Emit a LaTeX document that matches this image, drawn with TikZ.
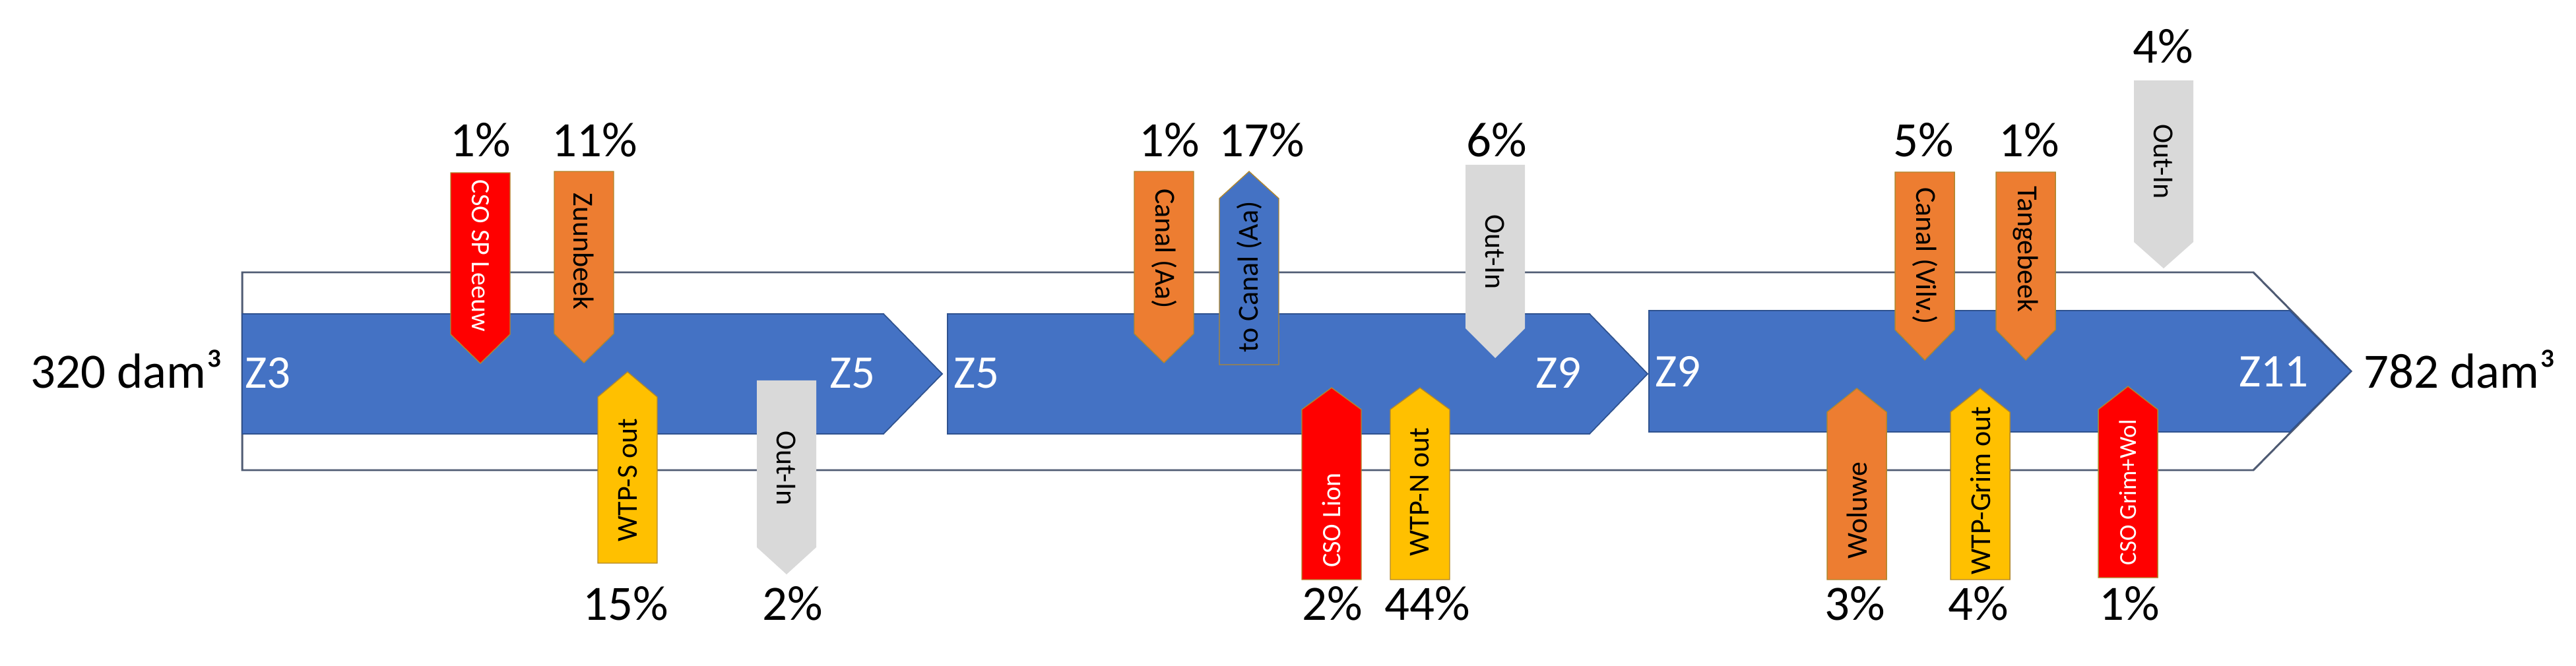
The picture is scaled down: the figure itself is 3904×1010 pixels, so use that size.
\documentclass[tikz,border=0pt]{standalone}
\usepackage{fontspec}
\setmainfont{Carlito}
\definecolor{mainblue}{HTML}{4472C4}
\definecolor{blueline}{HTML}{2F528F}
\definecolor{outerline}{HTML}{4F5B73}
\definecolor{redfill}{HTML}{FF0000}
\definecolor{orangefill}{HTML}{ED7D31}
\definecolor{goldfill}{HTML}{FFC000}
\definecolor{grayfill}{HTML}{D9D9D9}
\definecolor{smallline}{HTML}{B0872E}
\newcommand\dnarr[5]{% cx, top, shoulder, tip, style
  \path[#5] ({#1-45},#2) -- ({#1+45},#2) -- ({#1+45},#3) -- (#1,#4) -- ({#1-45},#3) -- cycle;}
\newcommand\uparr[5]{% cx, tip, shoulder, bottom, style
  \path[#5] (#1,#2) -- ({#1+45},#3) -- ({#1+45},#4) -- ({#1-45},#4) -- ({#1-45},#3) -- cycle;}
\begin{document}
\begin{tikzpicture}[x=0.01cm,y=-0.01cm,
  outerarrow/.style={draw=outerline,line width=0.85pt,fill=white,line join=miter},
  bluearrow/.style={draw=blueline,line width=0.5pt,fill=mainblue},
  redarr/.style={draw=smallline,line width=0.4pt,fill=redfill},
  orangearr/.style={draw=smallline,line width=0.4pt,fill=orangefill},
  goldarr/.style={draw=smallline,line width=0.4pt,fill=goldfill},
  grayarr/.style={fill=grayfill},
  bluesmall/.style={draw=smallline,line width=0.4pt,fill=mainblue},
  bigtext/.style={inner sep=0pt,font=\fontsize{21.3pt}{25pt}\selectfont,text=black},
  pct/.style={bigtext,anchor=base},
  zlabel/.style={inner sep=0pt,font=\fontsize{20.2pt}{24pt}\selectfont,text=white},
  intext/.style={inner sep=0pt,font=\fontsize{12.5pt}{15pt}\selectfont,text=black},
  csotext/.style={inner sep=0pt,font=\fontsize{11.4pt}{14pt}\selectfont,text=white},
  dntext/.style={rotate=-90},
  uptext/.style={rotate=90}]
\useasboundingbox (0,0) rectangle (3904,1010);
\fill[white] (0,0) rectangle (3904,1010);

% outer white arrow
\path[outerarrow] (367,413) -- (3415,413) -- (3563,563) -- (3415,713) -- (367,713) -- cycle;

% blue zone arrows
\path[bluearrow] (367,476) -- (1339,476) -- (1428,567) -- (1339,658) -- (367,658) -- cycle;
\path[bluearrow] (1436,476) -- (2409,476) -- (2497,567) -- (2409,658) -- (1436,658) -- cycle;
\path[bluearrow] (2499,471) -- (3470,471) -- (3563,563) -- (3470,655) -- (2499,655) -- cycle;

% zone labels
\node[zlabel,anchor=base west] (z3) at (371,588) {Z3};
\node[zlabel,anchor=base east] (z5a) at (1327,589) {Z5};
\node[zlabel,anchor=base west] (z5b) at (1445,589) {Z5};
\node[zlabel,anchor=base east] (z9a) at (2397,588) {Z9};
\node[zlabel,anchor=base west] (z9b) at (2508,587) {Z9};
\node[zlabel,anchor=base east] (z11) at (3499,587) {Z11};

\node[bigtext,anchor=base east] (vin) at (338,588) {320 dam³};
\node[bigtext,anchor=base west] (vout) at (3582,588) {782 dam³};

% --- zone 3-5 ---
\dnarr{728}{262}{507}{551}{redarr}
\node[csotext,dntext] (cso1) at (728,388) {CSO SP Leeuw};
\dnarr{885}{260}{506}{550}{orangearr}
\node[intext,dntext] (zuun) at (885,381) {Zuunbeek};
\uparr{951}{564}{602}{854}{goldarr}
\node[intext,uptext] (wtps) at (951,728) {WTP-S out};
\dnarr{1192}{577}{830}{871}{grayarr}
\node[intext,dntext] (oi1) at (1192,710) {Out-In};

% --- zone 5-9 ---
\dnarr{1764}{260}{506}{550}{orangearr}
\node[intext,dntext] (canalaa) at (1764,377) {Canal (Aa)};
\uparr{1893}{260}{301}{553}{bluesmall}
\node[intext,uptext] (tocanal) at (1893,420) {to Canal (Aa)};
\dnarr{2266}{250}{498}{543}{grayarr}
\node[intext,dntext] (oi2) at (2266,382) {Out-In};
\uparr{2018}{588}{621}{879}{redarr}
\node[csotext,uptext] (csolion) at (2018,789) {CSO Lion};
\uparr{2152}{588}{621}{879}{goldarr}
\node[intext,uptext] (wtpn) at (2152,746) {WTP-N out};

% --- zone 9-11 ---
\uparr{2814}{589}{625}{879}{orangearr}
\node[intext,uptext] (woluwe) at (2814,774) {Woluwe};
\dnarr{2917}{261}{500}{546}{orangearr}
\node[intext,dntext] (canalv) at (2917,388) {Canal (Vilv.)};
\dnarr{3070}{261}{500}{546}{orangearr}
\node[intext,dntext] (tange) at (3070,378) {Tangebeek};
\uparr{3001}{589}{625}{879}{goldarr}
\node[intext,uptext] (wtpg) at (3001,744) {WTP-Grim out};
\dnarr{3279}{122}{367}{407}{grayarr}
\node[intext,dntext] (oi3) at (3279,245) {Out-In};
\uparr{3225}{586}{621}{876}{redarr}
\node[csotext,uptext,font=\fontsize{10.5pt}{13pt}\selectfont] (csogw) at (3225,747) {CSO Grim+Wol};

% percentages
\node[pct] (p1) at (728,238) {1\%};
\node[pct] (p2) at (901,238) {11\%};
\node[pct] (p3) at (948,940) {15\%};
\node[pct] (p4) at (1201,940) {2\%};
\node[pct] (p5) at (1772,238) {1\%};
\node[pct] (p6) at (1912,238) {17\%};
\node[pct] (p7) at (2268,238) {6\%};
\node[pct] (p8) at (2019,940) {2\%};
\node[pct] (p9) at (2163,940) {44\%};
\node[pct] (p10) at (2915,238) {5\%};
\node[pct] (p11) at (3075,238) {1\%};
\node[pct] (p12) at (3278,96) {4\%};
\node[pct] (p13) at (2811,940) {3\%};
\node[pct] (p14) at (2998,940) {4\%};
\node[pct] (p15) at (3227,940) {1\%};
\end{tikzpicture}
\end{document}
